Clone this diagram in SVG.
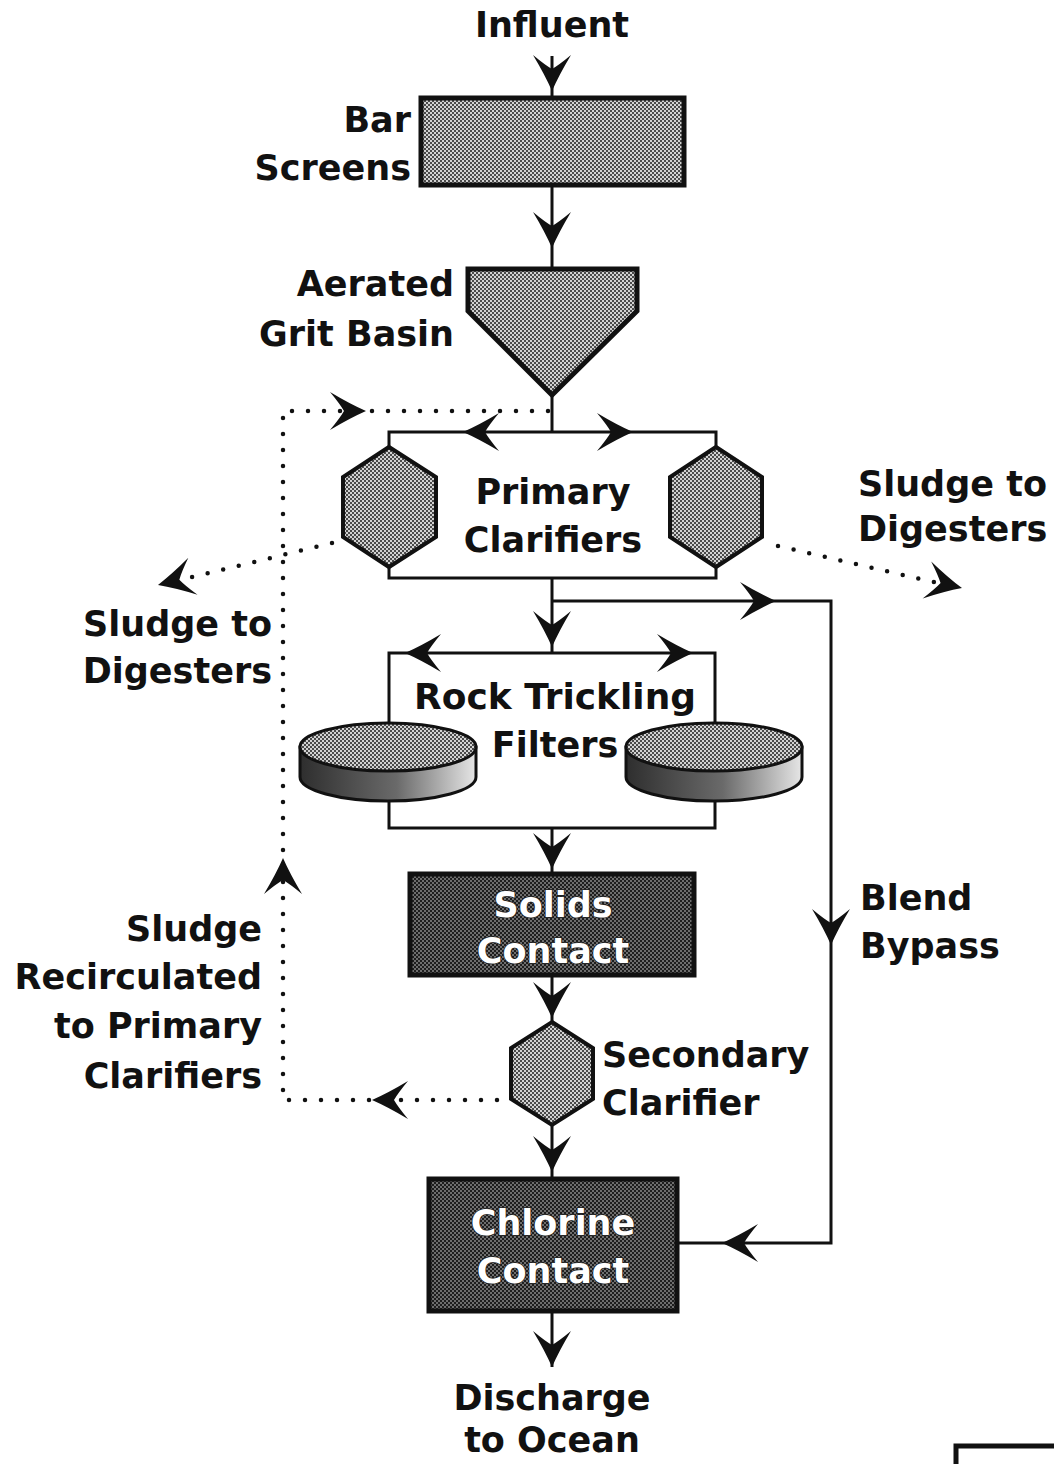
<svg xmlns="http://www.w3.org/2000/svg" xmlns:xlink="http://www.w3.org/1999/xlink" width="1054" height="1464" viewBox="0 0 1054 1464">
<style>
.lbl{font-family:"DejaVu Sans",Verdana,sans-serif;font-weight:bold;font-size:35px;fill:#111}
.wlbl{font-family:"DejaVu Sans",Verdana,sans-serif;font-weight:bold;font-size:35px;fill:#fff;stroke:#222;stroke-width:1.6;paint-order:stroke}
.ln{fill:none;stroke:#111;stroke-width:3}
.dot{fill:none;stroke:#111;stroke-width:4.5;stroke-linecap:round;stroke-dasharray:0 16}
.box{stroke:#111;stroke-width:5}
.hex{fill:url(#lightPat);stroke:#111;stroke-width:4;stroke-linejoin:miter}
.ah{fill:#111}
</style>
<defs>
<pattern id="lightPat" width="4" height="4" patternUnits="userSpaceOnUse">
<rect width="4" height="4" fill="#d2d2d2"/>
<rect width="2" height="2" fill="#4a4a4a"/>
<rect x="2" y="2" width="2" height="2" fill="#4a4a4a"/>
</pattern>
<pattern id="darkPat" width="4" height="4" patternUnits="userSpaceOnUse">
<rect width="4" height="4" fill="#6e6e6e"/>
<rect width="2" height="2" fill="#1e1e1e"/>
<rect x="2" y="2" width="2" height="2" fill="#1e1e1e"/>
</pattern>
<linearGradient id="sideGrad" x1="0" y1="0" x2="1" y2="0">
<stop offset="0" stop-color="#2e2e2e"/>
<stop offset="0.55" stop-color="#6a6a6a"/>
<stop offset="1" stop-color="#e6e6e6"/>
</linearGradient>
<path id="ah" d="M0,0 Q-16,-7 -36,-19 Q-26,-7 -22,0 Q-26,7 -36,19 Q-16,7 0,0 Z"/>
</defs>

<g id="connectors">
<line class="ln" x1="552" y1="56" x2="552" y2="97"/>
<use class="ah" href="#ah" transform="translate(552,91) rotate(90)"/>
<line class="ln" x1="552" y1="186" x2="552" y2="268"/>
<use class="ah" href="#ah" transform="translate(552,248) rotate(90)"/>
<line class="ln" x1="552" y1="395" x2="552" y2="432"/>
<polyline class="ln" points="389,449 389,432 716,432 716,449"/>
<use class="ah" href="#ah" transform="translate(463,432) rotate(180)"/>
<use class="ah" href="#ah" transform="translate(633,432) rotate(0)"/>
<polyline class="ln" points="389,566 389,578 716,578 716,566"/>
<line class="ln" x1="552" y1="578" x2="552" y2="653"/>
<use class="ah" href="#ah" transform="translate(552,647) rotate(90)"/>
<polyline class="ln" points="552,601 831,601 831,1243 678,1243"/>
<use class="ah" href="#ah" transform="translate(776,601) rotate(0)"/>
<use class="ah" href="#ah" transform="translate(831,945) rotate(90)"/>
<use class="ah" href="#ah" transform="translate(722,1243) rotate(180)"/>
<polyline class="ln" points="389,726 389,653 715,653 715,726"/>
<use class="ah" href="#ah" transform="translate(405,653) rotate(180)"/>
<use class="ah" href="#ah" transform="translate(693,653) rotate(0)"/>
<polyline class="ln" points="389,798 389,828 715,828 715,798"/>
<line class="ln" x1="552" y1="828" x2="552" y2="873"/>
<use class="ah" href="#ah" transform="translate(552,869) rotate(90)"/>
<line class="ln" x1="552" y1="976" x2="552" y2="1022"/>
<use class="ah" href="#ah" transform="translate(552,1018) rotate(90)"/>
<line class="ln" x1="552" y1="1125" x2="552" y2="1178"/>
<use class="ah" href="#ah" transform="translate(552,1172) rotate(90)"/>
<line class="ln" x1="552" y1="1312" x2="552" y2="1367"/>
<use class="ah" href="#ah" transform="translate(552,1367) rotate(90)"/>
<path class="dot" d="M548,411 H283 V1100 H505"/>
<use class="ah" href="#ah" transform="translate(366,411) rotate(0)"/>
<use class="ah" href="#ah" transform="translate(283,858) rotate(-90)"/>
<use class="ah" href="#ah" transform="translate(372,1100) rotate(180)"/>
<line class="dot" x1="332" y1="543" x2="176" y2="581"/>
<use class="ah" href="#ah" transform="translate(158,585) rotate(166)"/>
<line class="dot" x1="778" y1="546" x2="942" y2="584"/>
<use class="ah" href="#ah" transform="translate(962,588) rotate(13)"/>
</g>

<g id="influent"><text class="lbl" x="552" y="37" text-anchor="middle">Influent</text></g>

<g id="bar-screens">
<rect class="box" x="421" y="98" width="263" height="87" fill="url(#lightPat)"/>
<text class="lbl" x="411" y="132" text-anchor="end">Bar</text>
<text class="lbl" x="411" y="180" text-anchor="end">Screens</text>
</g>

<g id="grit-basin">
<polygon class="box" points="468,269 637,269 637,311 552,395 468,311" fill="url(#lightPat)" stroke-width="4"/>
<text class="lbl" x="454" y="296" text-anchor="end">Aerated</text>
<text class="lbl" x="454" y="346" text-anchor="end">Grit Basin</text>
</g>

<g id="primary-clarifiers">
<polygon class="hex" points="389,447 436,477 436,537 389,567 343,537 343,477"/>
<polygon class="hex" points="716,447 762,477 762,537 716,567 670,537 670,477"/>
<text class="lbl" x="553" y="504" text-anchor="middle">Primary</text>
<text class="lbl" x="553" y="552" text-anchor="middle">Clarifiers</text>
</g>

<g id="sludge-left">
<text class="lbl" x="272" y="636" text-anchor="end">Sludge to</text>
<text class="lbl" x="272" y="683" text-anchor="end">Digesters</text>
</g>

<g id="sludge-right">
<text class="lbl" x="858" y="496">Sludge to</text>
<text class="lbl" x="858" y="541">Digesters</text>
</g>

<g id="trickling-filters">
<path d="M300,747 V777 A88,24 0 0 0 476,777 V747 Z" fill="url(#sideGrad)" stroke="#111" stroke-width="3"/>
<ellipse cx="388" cy="747" rx="88" ry="24" fill="url(#lightPat)" stroke="#111" stroke-width="3"/>
<path d="M626,747 V777 A88,24 0 0 0 802,777 V747 Z" fill="url(#sideGrad)" stroke="#111" stroke-width="3"/>
<ellipse cx="714" cy="747" rx="88" ry="24" fill="url(#lightPat)" stroke="#111" stroke-width="3"/>
<text class="lbl" x="555" y="709" text-anchor="middle" textLength="282" lengthAdjust="spacingAndGlyphs">Rock Trickling</text>
<text class="lbl" x="555" y="757" text-anchor="middle">Filters</text>
</g>

<g id="solids-contact">
<rect class="box" x="410" y="874" width="284" height="101" fill="url(#darkPat)" stroke-width="4"/>
<text class="wlbl" x="553" y="917" text-anchor="middle">Solids</text>
<text class="wlbl" x="553" y="963" text-anchor="middle">Contact</text>
</g>

<g id="secondary-clarifier">
<polygon class="hex" points="552,1022 593,1048 593,1099 552,1125 511,1099 511,1048"/>
<text class="lbl" x="602" y="1067">Secondary</text>
<text class="lbl" x="602" y="1115">Clarifier</text>
</g>

<g id="blend-bypass">
<text class="lbl" x="860" y="910">Blend</text>
<text class="lbl" x="860" y="958">Bypass</text>
</g>

<g id="sludge-recirculated">
<text class="lbl" x="262" y="941" text-anchor="end">Sludge</text>
<text class="lbl" x="262" y="989" text-anchor="end">Recirculated</text>
<text class="lbl" x="262" y="1038" text-anchor="end">to Primary</text>
<text class="lbl" x="262" y="1088" text-anchor="end">Clarifiers</text>
</g>

<g id="chlorine-contact">
<rect class="box" x="429" y="1179" width="248" height="132" fill="url(#darkPat)"/>
<text class="wlbl" x="553" y="1235" text-anchor="middle">Chlorine</text>
<text class="wlbl" x="553" y="1283" text-anchor="middle">Contact</text>
</g>

<g id="discharge">
<text class="lbl" x="552" y="1410" text-anchor="middle">Discharge</text>
<text class="lbl" x="552" y="1452" text-anchor="middle">to Ocean</text>
</g>

<path d="M956,1464 V1446 H1054" fill="none" stroke="#111" stroke-width="5"/>
</svg>
